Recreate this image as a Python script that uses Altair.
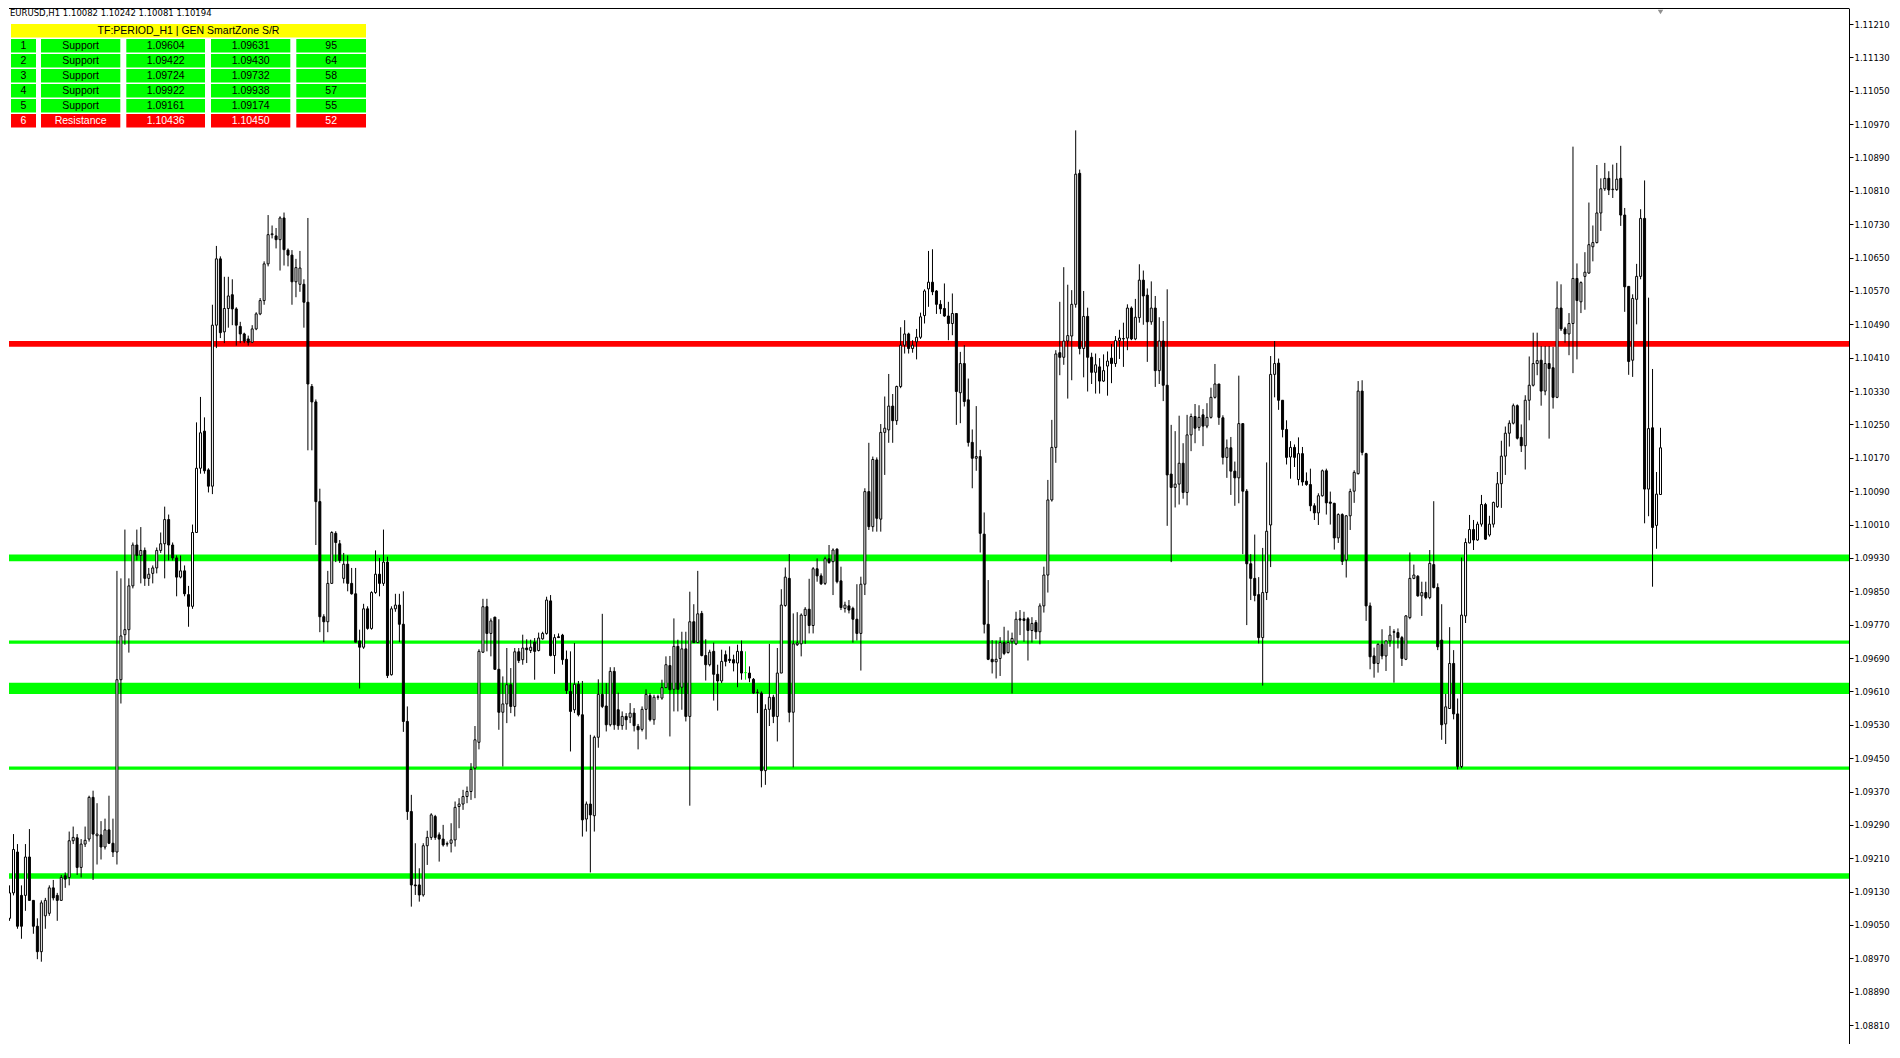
import altair as alt
import numpy as np
import pandas as pd

# ---------------- data (EURUSD H1 candles) ----------------
open_ = [
1.09060,1.09066,1.09127,1.09225,1.09121,1.09121,1.09213,1.09109,1.09047,1.08986,
1.09072,1.09078,1.09139,1.09121,1.09109,1.09168,1.09164,1.09252,1.09259,1.09188,
1.09244,1.09256,1.09356,1.09264,1.09266,1.09237,1.09278,1.09246,1.09225,1.09638,
1.09746,1.09758,1.09863,1.09961,1.09936,1.09948,1.09881,1.09893,1.09906,1.09948,
1.09964,1.10022,1.09961,1.09930,1.09884,1.09899,1.09842,1.09814,1.09991,1.10145,
1.10234,1.10141,1.10102,1.10488,1.10647,1.10472,1.10528,1.10561,1.10527,1.10485,
1.10467,1.10455,1.10447,1.10479,1.10515,1.10547,1.10635,1.10705,1.10702,1.10693,
1.10745,1.10668,1.10656,1.10592,1.10586,1.10586,1.10543,1.10341,1.10304,1.10065,
1.09789,1.09777,1.09869,1.09989,1.09964,1.09881,1.09915,1.09869,1.09844,1.09731,
1.09716,1.09808,1.09761,1.09847,1.09891,1.09869,1.09920,1.09650,1.09808,1.09817,
1.09771,1.09538,1.09322,1.09146,1.09146,1.09122,1.09240,1.09260,1.09310,1.09266,
1.09256,1.09244,1.09246,1.09254,1.09334,1.09340,1.09358,1.09370,1.09426,1.09488,
1.09704,1.09813,1.09749,1.09788,1.09663,1.09560,1.09580,1.09626,1.09574,1.09705,
1.09686,1.09714,1.09708,1.09728,1.09708,1.09736,1.09749,1.09827,1.09696,1.09741,
1.09745,1.09687,1.09610,1.09566,1.09627,1.09554,1.09304,1.09340,1.09312,1.09500,
1.09603,1.09575,1.09530,1.09658,1.09566,1.09528,1.09550,1.09548,1.09558,1.09526,
1.09519,1.09567,1.09600,1.09542,1.09596,1.09594,1.09619,1.09672,1.09615,1.09718,
1.09620,1.09712,1.09550,1.09777,1.09727,1.09797,1.09696,1.09674,1.09706,1.09651,
1.09635,1.09698,1.09687,1.09686,1.09678,1.09706,1.09655,1.09654,1.09639,1.09607,
1.09606,1.09420,1.09567,1.09596,1.09550,1.09654,1.09816,1.09881,1.09560,1.09722,
1.09724,1.09792,1.09807,1.09768,1.09904,1.09887,1.09869,1.09928,1.09921,1.09951,
1.09875,1.09809,1.09815,1.09809,1.09783,1.09749,1.09867,1.10089,1.10005,1.10165,
1.10023,1.10231,1.10237,1.10294,1.10259,1.10341,1.10440,1.10467,1.10432,1.10448,
1.10459,1.10511,1.10575,1.10591,1.10570,1.10538,1.10528,1.10510,1.10492,1.10516,
1.10326,1.10396,1.10309,1.10207,1.10169,1.10173,1.09987,1.09771,1.09687,1.09681,
1.09689,1.09727,1.09703,1.09729,1.09724,1.09784,1.09784,1.09784,1.09756,1.09775,
1.09753,1.09815,1.09889,1.10069,1.10195,1.10422,1.10411,1.10450,1.10462,1.10538,
1.10852,1.10432,1.10509,1.10411,1.10375,1.10388,1.10354,1.10390,1.10409,1.10396,
1.10451,1.10455,1.10457,1.10529,1.10455,1.10506,1.10596,1.10560,1.10496,1.10529,
1.10379,1.10450,1.10344,1.10131,1.10099,1.10107,1.10157,1.10087,1.10225,1.10269,
1.10243,1.10273,1.10246,1.10267,1.10315,1.10347,1.10266,1.10171,1.10194,1.10138,
1.10122,1.10252,1.10090,1.09916,1.09881,1.09842,1.09739,1.09847,1.10009,1.10370,
1.10397,1.10308,1.10238,1.10172,1.10195,1.10118,1.10180,1.10114,1.10106,1.10055,
1.10038,1.10079,1.10139,1.10064,1.10061,1.09978,1.10034,1.09925,1.10031,1.10090,
1.10132,1.10330,1.10180,1.09815,1.09695,1.09677,1.09723,1.09695,1.09731,1.09753,
1.09751,1.09739,1.09687,1.09787,1.09881,1.09886,1.09839,1.09847,1.09835,1.09914,
1.09859,1.09733,1.09532,1.09569,1.09677,1.09556,1.09430,1.09791,1.09966,1.09998,
1.09973,1.10011,1.10058,1.09985,1.10011,1.10053,1.10108,1.10174,1.10229,1.10253,
1.10295,1.10219,1.10199,1.10308,1.10344,1.10396,1.10404,1.10330,1.10396,1.10386,
1.10315,1.10529,1.10479,1.10467,1.10492,1.10600,1.10544,1.10605,1.10613,1.10676,
1.10686,1.10757,1.10815,1.10840,1.10813,1.10813,1.10840,1.10752,1.10581,1.10404,
1.10550,1.10605,1.10744,1.10095,1.10242,1.10008,1.10082]

high = [
1.09066,1.09145,1.09268,1.09244,1.09145,1.09244,1.09280,1.09109,1.09066,1.09109,
1.09115,1.09145,1.09158,1.09127,1.09170,1.09176,1.09274,1.09286,1.09268,1.09256,
1.09286,1.09360,1.09372,1.09342,1.09299,1.09305,1.09360,1.09305,1.09899,1.09881,
1.09998,1.09881,1.09967,1.09998,1.10004,1.09955,1.09906,1.09912,1.09955,1.09991,
1.10053,1.10034,1.09967,1.09936,1.09936,1.09912,1.09863,1.10010,1.10255,1.10316,
1.10267,1.10145,1.10537,1.10678,1.10653,1.10604,1.10604,1.10598,1.10531,1.10496,
1.10470,1.10463,1.10488,1.10519,1.10553,1.10641,1.10752,1.10727,1.10721,1.10749,
1.10758,1.10672,1.10668,1.10647,1.10666,1.10598,1.10745,1.10347,1.10310,1.10096,
1.09795,1.09899,1.09994,1.09994,1.09973,1.09942,1.09936,1.09906,1.09906,1.09758,
1.09820,1.09814,1.09850,1.09948,1.09930,1.09998,1.09933,1.09814,1.09844,1.09844,
1.09850,1.09574,1.09362,1.09246,1.09186,1.09246,1.09276,1.09318,1.09314,1.09272,
1.09290,1.09250,1.09294,1.09346,1.09354,1.09374,1.09382,1.09438,1.09527,1.09711,
1.09832,1.09832,1.09785,1.09789,1.09783,1.09646,1.09714,1.09666,1.09714,1.09714,
1.09746,1.09735,1.09734,1.09738,1.09751,1.09753,1.09837,1.09841,1.09747,1.09749,
1.09748,1.09708,1.09706,1.09726,1.09635,1.09635,1.09346,1.09506,1.09504,1.09639,
1.09796,1.09630,1.09668,1.09668,1.09607,1.09562,1.09558,1.09582,1.09570,1.09532,
1.09574,1.09615,1.09606,1.09602,1.09602,1.09638,1.09694,1.09695,1.09785,1.09734,
1.09753,1.09753,1.09849,1.09819,1.09899,1.09803,1.09735,1.09710,1.09727,1.09674,
1.09710,1.09708,1.09718,1.09698,1.09722,1.09732,1.09706,1.09670,1.09642,1.09615,
1.09610,1.09579,1.09724,1.09602,1.09714,1.09855,1.09907,1.09939,1.09797,1.09800,
1.09797,1.09812,1.09880,1.09908,1.09929,1.09893,1.09933,1.09961,1.09953,1.09953,
1.09909,1.09825,1.09829,1.09813,1.09867,1.09885,1.10097,1.10206,1.10173,1.10171,
1.10251,1.10317,1.10371,1.10323,1.10343,1.10483,1.10500,1.10470,1.10452,1.10479,
1.10518,1.10574,1.10666,1.10670,1.10572,1.10548,1.10588,1.10544,1.10564,1.10516,
1.10424,1.10440,1.10360,1.10238,1.10294,1.10189,1.10039,1.09877,1.09733,1.09732,
1.09740,1.09765,1.09756,1.09751,1.09801,1.09805,1.09801,1.09788,1.09788,1.09781,
1.09821,1.09909,1.10117,1.10261,1.10428,1.10544,1.10627,1.10585,1.10572,1.10955,
1.10861,1.10570,1.10530,1.10422,1.10420,1.10409,1.10418,1.10425,1.10443,1.10462,
1.10477,1.10494,1.10538,1.10533,1.10551,1.10634,1.10619,1.10576,1.10593,1.10558,
1.10507,1.10498,1.10574,1.10249,1.10234,1.10271,1.10205,1.10273,1.10276,1.10299,
1.10296,1.10287,1.10301,1.10338,1.10395,1.10347,1.10272,1.10214,1.10220,1.10161,
1.10367,1.10252,1.10095,1.09939,1.09986,1.09884,1.09954,1.10159,1.10414,1.10450,
1.10408,1.10308,1.10260,1.10210,1.10202,1.10219,1.10196,1.10135,1.10144,1.10061,
1.10085,1.10142,1.10144,1.10089,1.10062,1.10037,1.10037,1.10033,1.10096,1.10140,
1.10354,1.10356,1.10182,1.09823,1.09715,1.09725,1.09759,1.09731,1.09767,1.09759,
1.09761,1.09743,1.09793,1.09943,1.09914,1.09889,1.09873,1.09873,1.09949,1.10066,
1.09869,1.09819,1.09604,1.09764,1.09709,1.09593,1.09931,1.09977,1.10033,1.10021,
1.10017,1.10081,1.10062,1.10031,1.10065,1.10136,1.10211,1.10245,1.10260,1.10300,
1.10298,1.10250,1.10320,1.10413,1.10470,1.10470,1.10438,1.10438,1.10438,1.10436,
1.10593,1.10586,1.10484,1.10517,1.10916,1.10636,1.10593,1.10663,1.10782,1.10727,
1.10872,1.10840,1.10877,1.10857,1.10873,1.10877,1.10918,1.10769,1.10581,1.10562,
1.10635,1.10766,1.10835,1.10554,1.10383,1.10136,1.10242]

low = [
1.08955,1.09060,1.09121,1.09041,1.09017,1.09084,1.09109,1.09029,1.08968,1.08962,
1.09041,1.09072,1.09109,1.09060,1.09109,1.09139,1.09145,1.09244,1.09170,1.09164,
1.09237,1.09250,1.09158,1.09195,1.09207,1.09231,1.09244,1.09213,1.09195,1.09581,
1.09722,1.09703,1.09857,1.09924,1.09869,1.09863,1.09863,1.09869,1.09893,1.09942,
1.09881,1.09924,1.09924,1.09838,1.09881,1.09838,1.09765,1.09808,1.09991,1.10132,
1.10132,1.10087,1.10083,1.10433,1.10457,1.10445,1.10482,1.10488,1.10439,1.10445,
1.10445,1.10439,1.10445,1.10476,1.10512,1.10537,1.10629,1.10696,1.10672,1.10619,
1.10631,1.10629,1.10537,1.10555,1.10568,1.10482,1.10188,1.10188,1.09961,1.09752,
1.09728,1.09752,1.09869,1.09920,1.09918,1.09869,1.09850,1.09842,1.09728,1.09617,
1.09712,1.09758,1.09758,1.09844,1.09838,1.09863,1.09642,1.09648,1.09801,1.09728,
1.09513,1.09302,1.09094,1.09122,1.09106,1.09118,1.09194,1.09254,1.09254,1.09202,
1.09238,1.09238,1.09224,1.09238,1.09282,1.09326,1.09342,1.09350,1.09354,1.09471,
1.09702,1.09706,1.09694,1.09662,1.09518,1.09430,1.09534,1.09558,1.09550,1.09678,
1.09674,1.09678,1.09702,1.09638,1.09706,1.09734,1.09746,1.09694,1.09652,1.09738,
1.09674,1.09604,1.09466,1.09558,1.09550,1.09262,1.09274,1.09176,1.09274,1.09475,
1.09570,1.09514,1.09526,1.09518,1.09518,1.09518,1.09518,1.09534,1.09514,1.09471,
1.09514,1.09495,1.09538,1.09530,1.09590,1.09590,1.09619,1.09502,1.09562,1.09562,
1.09566,1.09538,1.09336,1.09726,1.09726,1.09694,1.09636,1.09670,1.09588,1.09564,
1.09630,1.09670,1.09678,1.09658,1.09620,1.09638,1.09638,1.09632,1.09604,1.09558,
1.09380,1.09386,1.09527,1.09534,1.09490,1.09654,1.09813,1.09536,1.09428,1.09719,
1.09694,1.09724,1.09749,1.09749,1.09873,1.09865,1.09865,1.09916,1.09841,1.09869,
1.09805,1.09799,1.09797,1.09727,1.09732,1.09660,1.09841,1.09997,1.09993,1.09993,
1.09993,1.10129,1.10206,1.10206,1.10249,1.10337,1.10420,1.10420,1.10422,1.10406,
1.10455,1.10492,1.10532,1.10560,1.10515,1.10515,1.10508,1.10452,1.10464,1.10249,
1.10253,1.10293,1.10197,1.10097,1.10139,1.09943,1.09749,1.09685,1.09653,1.09641,
1.09647,1.09697,1.09701,1.09605,1.09721,1.09745,1.09729,1.09684,1.09727,1.09735,
1.09723,1.09799,1.09847,1.10065,1.10158,1.10368,1.10393,1.10312,1.10356,1.10530,
1.10418,1.10363,1.10329,1.10347,1.10324,1.10324,1.10352,1.10319,1.10349,1.10388,
1.10407,1.10388,1.10428,1.10452,1.10452,1.10494,1.10489,1.10400,1.10489,1.10340,
1.10347,1.10306,1.10007,1.09920,1.10051,1.10058,1.10072,1.10056,1.10186,1.10205,
1.10235,1.10198,1.10241,1.10264,1.10312,1.10249,1.10154,1.10122,1.10081,1.10055,
1.10061,1.09939,1.09769,1.09829,1.09826,1.09725,1.09624,1.09829,1.09908,1.10315,
1.10285,1.10219,1.10154,1.10120,1.10148,1.10104,1.10103,1.10103,1.10042,1.10021,
1.10009,1.10077,1.10034,1.10010,1.09950,1.09966,1.09913,1.09883,1.09997,1.10062,
1.10130,1.10176,1.09779,1.09663,1.09643,1.09655,1.09687,1.09659,1.09717,1.09631,
1.09713,1.09671,1.09685,1.09783,1.09879,1.09837,1.09791,1.09831,1.09831,1.09857,
1.09709,1.09494,1.09484,1.09568,1.09543,1.09423,1.09426,1.09774,1.09965,1.09949,
1.09971,1.10005,1.09973,1.09981,1.10003,1.10050,1.10050,1.10129,1.10197,1.10250,
1.10214,1.10184,1.10142,1.10260,1.10341,1.10368,1.10295,1.10320,1.10216,1.10288,
1.10313,1.10474,1.10446,1.10416,1.10373,1.10406,1.10517,1.10525,1.10611,1.10641,
1.10684,1.10714,1.10810,1.10800,1.10793,1.10810,1.10726,1.10520,1.10369,1.10364,
1.10490,1.10598,1.10013,1.10030,1.09861,1.09952,1.10081]

close = [
1.08962,1.09127,1.09231,1.09047,1.09047,1.09213,1.09109,1.09047,1.08986,1.09103,
1.09109,1.09139,1.09115,1.09109,1.09164,1.09160,1.09252,1.09260,1.09188,1.09244,
1.09253,1.09356,1.09268,1.09268,1.09237,1.09278,1.09246,1.09225,1.09638,1.09743,
1.09758,1.09863,1.09961,1.09936,1.09948,1.09881,1.09891,1.09906,1.09948,1.09964,
1.10022,1.09961,1.09930,1.09884,1.09899,1.09844,1.09814,1.09991,1.10145,1.10230,
1.10139,1.10102,1.10488,1.10647,1.10470,1.10528,1.10558,1.10527,1.10488,1.10467,
1.10450,1.10447,1.10479,1.10515,1.10547,1.10635,1.10705,1.10707,1.10693,1.10745,
1.10669,1.10656,1.10592,1.10626,1.10625,1.10543,1.10347,1.10304,1.10065,1.09789,
1.09777,1.09869,1.09991,1.09967,1.09924,1.09915,1.09869,1.09844,1.09728,1.09716,
1.09808,1.09761,1.09847,1.09891,1.09869,1.09920,1.09648,1.09808,1.09817,1.09771,
1.09538,1.09322,1.09146,1.09144,1.09122,1.09240,1.09260,1.09314,1.09260,1.09256,
1.09242,1.09245,1.09254,1.09332,1.09340,1.09358,1.09370,1.09423,1.09494,1.09706,
1.09813,1.09749,1.09779,1.09663,1.09560,1.09580,1.09626,1.09574,1.09705,1.09684,
1.09714,1.09710,1.09716,1.09706,1.09738,1.09749,1.09829,1.09696,1.09739,1.09739,
1.09686,1.09612,1.09562,1.09627,1.09554,1.09302,1.09340,1.09314,1.09500,1.09603,
1.09574,1.09530,1.09658,1.09530,1.09528,1.09550,1.09542,1.09558,1.09528,1.09518,
1.09567,1.09603,1.09542,1.09596,1.09597,1.09619,1.09674,1.09614,1.09718,1.09615,
1.09712,1.09550,1.09777,1.09727,1.09796,1.09696,1.09674,1.09704,1.09651,1.09635,
1.09682,1.09682,1.09684,1.09678,1.09706,1.09654,1.09655,1.09642,1.09606,1.09608,
1.09420,1.09567,1.09596,1.09550,1.09654,1.09817,1.09884,1.09560,1.09724,1.09726,
1.09793,1.09807,1.09768,1.09904,1.09887,1.09868,1.09928,1.09919,1.09949,1.09873,
1.09811,1.09817,1.09805,1.09783,1.09749,1.09867,1.10089,1.10005,1.10166,1.10025,
1.10231,1.10241,1.10294,1.10259,1.10341,1.10440,1.10467,1.10432,1.10440,1.10459,
1.10508,1.10570,1.10591,1.10568,1.10538,1.10527,1.10510,1.10492,1.10516,1.10329,
1.10396,1.10305,1.10207,1.10169,1.10173,1.09989,1.09771,1.09687,1.09681,1.09687,
1.09727,1.09701,1.09727,1.09737,1.09783,1.09781,1.09780,1.09756,1.09773,1.09753,
1.09815,1.09889,1.10069,1.10195,1.10419,1.10411,1.10450,1.10463,1.10538,1.10850,
1.10432,1.10509,1.10411,1.10375,1.10393,1.10354,1.10379,1.10402,1.10396,1.10451,
1.10457,1.10456,1.10529,1.10455,1.10507,1.10596,1.10558,1.10496,1.10529,1.10379,
1.10450,1.10344,1.10129,1.10099,1.10107,1.10157,1.10087,1.10225,1.10269,1.10241,
1.10267,1.10246,1.10267,1.10315,1.10347,1.10267,1.10171,1.10194,1.10138,1.10122,
1.10252,1.10090,1.09916,1.09881,1.09840,1.09739,1.09847,1.09994,1.10370,1.10396,
1.10308,1.10238,1.10171,1.10195,1.10171,1.10180,1.10112,1.10106,1.10055,1.10038,
1.10079,1.10139,1.10062,1.10061,1.09978,1.10034,1.09922,1.10031,1.10089,1.10135,
1.10330,1.10183,1.09815,1.09693,1.09677,1.09723,1.09695,1.09731,1.09745,1.09752,
1.09739,1.09689,1.09791,1.09881,1.09889,1.09839,1.09847,1.09835,1.09917,1.09859,
1.09717,1.09530,1.09573,1.09677,1.09556,1.09430,1.09793,1.09967,1.09998,1.09973,
1.10011,1.10058,1.09975,1.10011,1.10063,1.10108,1.10174,1.10229,1.10253,1.10295,
1.10217,1.10199,1.10308,1.10344,1.10396,1.10403,1.10330,1.10396,1.10384,1.10315,
1.10529,1.10479,1.10467,1.10492,1.10600,1.10547,1.10590,1.10615,1.10681,1.10686,
1.10757,1.10815,1.10840,1.10812,1.10814,1.10838,1.10752,1.10580,1.10401,1.10552,
1.10605,1.10744,1.10095,1.10240,1.10003,1.10083,1.10194]

symbol = "EURUSD,H1"

# S/R zones (the table shown in the top-left corner)
zone_rank = [1, 2, 3, 4, 5, 6]
zone_type = ["Support", "Support", "Support", "Support", "Support", "Resistance"]
zone_low = [1.09604, 1.09422, 1.09724, 1.09922, 1.09161, 1.10436]
zone_high = [1.09631, 1.09430, 1.09732, 1.09938, 1.09174, 1.10450]
zone_score = [95, 64, 58, 57, 55, 52]
table_title = "TF:PERIOD_H1 | GEN SmartZone S/R"

price_ticks = [1.08810, 1.08890, 1.08970, 1.09050, 1.09130, 1.09210, 1.09290,
               1.09370, 1.09450, 1.09530, 1.09610, 1.09690, 1.09770, 1.09850,
               1.09930, 1.10010, 1.10090, 1.10170, 1.10250, 1.10330, 1.10410,
               1.10490, 1.10570, 1.10650, 1.10730, 1.10810, 1.10890, 1.10970,
               1.11050, 1.11130, 1.11210]

# ---------------- layout / style ----------------
PLOT_W, PLOT_H = 1840, 1036
BAR_PX = 4.0                       # pixels per bar
X_DOMAIN = [3.125, 3.125 + PLOT_W / BAR_PX]
Y_TOP = 1.112484
PX_PER_PRICE = 41712.0
Y_DOMAIN = [Y_TOP - PLOT_H / PX_PER_PRICE, Y_TOP]

ZONE_COLORS = {"Support": "#00ff00", "Resistance": "#ff0000"}
ZONE_TEXT = {"Support": "#000000", "Resistance": "#ffffff"}
CANDLE_FILL = {"bull": "#ffffff", "bear": "#000000", "doji": "#00ff00"}
CANDLE_LINE = {"bull": "#000000", "bear": "#000000", "doji": "#00ff00"}

TABLE_X, TABLE_Y = 2, 16
COLS = [(0, 25), (30, 109.3), (115.3, 194), (200, 279.3), (285.3, 355)]
ROW_STEP, CELL_H = 15, 13.5

# ---------------- frames ----------------
n = len(close)
assert len(open_) == len(high) == len(low) == n
df = pd.DataFrame({"bar": np.arange(1, n + 1), "open": open_, "high": high,
                   "low": low, "close": close})
df["body_lo"] = df[["open", "close"]].min(axis=1)
df["body_hi"] = df[["open", "close"]].max(axis=1)
df["kind"] = np.where(df["close"] > df["open"], "bull",
                      np.where(df["close"] < df["open"], "bear", "doji"))
df["fillc"] = df["kind"].map(CANDLE_FILL)
df["linec"] = df["kind"].map(CANDLE_LINE)

zdf = pd.DataFrame({"zlow": zone_low, "zhigh": zone_high, "type": zone_type})
zdf["col"] = zdf["type"].map(ZONE_COLORS)

xs = alt.Scale(domain=X_DOMAIN, nice=False, zero=False)
ys = alt.Scale(domain=Y_DOMAIN, nice=False, zero=False)
yaxis = alt.Axis(orient="right", values=price_ticks, format=".5f", title=None,
                 grid=False, domainColor="#000000", domainWidth=1,
                 tickColor="#000000", tickWidth=1, tickSize=4, labelPadding=1,
                 labelFont="DejaVu Sans", labelFontSize=8.5, labelColor="#000000",
                 labelOverlap=False, labelFlush=False)

zones = alt.Chart(zdf).mark_rect().encode(
    x=alt.value(0), x2=alt.value(PLOT_W),
    y=alt.Y("zlow:Q", scale=ys, axis=yaxis), y2="zhigh:Q",
    color=alt.Color("col:N", scale=None, legend=None))

wicks = alt.Chart(df).mark_rule(strokeWidth=1, clip=True).encode(
    x=alt.X("bar:Q", scale=xs, axis=None),
    y=alt.Y("low:Q", scale=ys, axis=yaxis), y2="high:Q",
    color=alt.Color("linec:N", scale=None, legend=None))

bodies = alt.Chart(df).mark_bar(size=2, strokeWidth=1, clip=True).encode(
    x=alt.X("bar:Q", scale=xs, axis=None),
    y=alt.Y("body_lo:Q", scale=ys, axis=yaxis), y2="body_hi:Q",
    fill=alt.Fill("fillc:N", scale=None, legend=None),
    stroke=alt.Stroke("linec:N", scale=None, legend=None))

frame = alt.Chart(pd.DataFrame({"k": [0]})).mark_rule(color="#000000", strokeWidth=1).encode(
    x=alt.value(0), x2=alt.value(PLOT_W), y=alt.value(0.5))

info_text = f"{symbol}  {open_[-1]:.5f} {high[-1]:.5f} {low[-1]:.5f} {close[-1]:.5f}"
info = alt.Chart(pd.DataFrame({"t": [info_text]})).mark_text(
    align="left", baseline="top", font="DejaVu Sans", fontSize=8.5, color="#000000"
).encode(x=alt.value(1), y=alt.value(1), text="t:N")

marker = alt.Chart(pd.DataFrame({"bar": [n]})).mark_point(
    shape="triangle-down", filled=True, size=30, color="#909090", opacity=1
).encode(x=alt.X("bar:Q", scale=xs, axis=None), y=alt.value(4))

# ---------------- table ----------------
cells = [{"x0": TABLE_X + COLS[0][0], "x1": TABLE_X + COLS[-1][1],
          "y0": TABLE_Y, "y1": TABLE_Y + CELL_H, "fill": "#ffff00",
          "label": table_title, "tcolor": "#000000"}]
for i in range(len(zone_rank)):
    vals = [str(zone_rank[i]), zone_type[i], f"{zone_low[i]:.5f}",
            f"{zone_high[i]:.5f}", str(zone_score[i])]
    y0 = TABLE_Y + ROW_STEP * (i + 1)
    for (a, b), v in zip(COLS, vals):
        cells.append({"x0": TABLE_X + a, "x1": TABLE_X + b, "y0": y0, "y1": y0 + CELL_H,
                      "fill": ZONE_COLORS[zone_type[i]], "label": v,
                      "tcolor": ZONE_TEXT[zone_type[i]]})
tdf = pd.DataFrame(cells)
tdf["xc"] = (tdf["x0"] + tdf["x1"]) / 2
tdf["yc"] = (tdf["y0"] + tdf["y1"]) / 2 + 0.5

cell_rects = alt.Chart(tdf).mark_rect().encode(
    x=alt.X("x0:Q", scale=None, axis=None), x2="x1:Q",
    y=alt.Y("y0:Q", scale=None, axis=None), y2="y1:Q",
    fill=alt.Fill("fill:N", scale=None, legend=None))

cell_texts = alt.Chart(tdf).mark_text(
    font="Liberation Sans", fontSize=10.5, align="center", baseline="middle"
).encode(
    x=alt.X("xc:Q", scale=None, axis=None),
    y=alt.Y("yc:Q", scale=None, axis=None),
    text="label:N",
    color=alt.Color("tcolor:N", scale=None, legend=None))

main = alt.layer(zones, wicks, bodies, frame, info, marker)
table = alt.layer(cell_rects, cell_texts)

chart = alt.layer(main, table).resolve_scale(
    x="independent", y="independent"
).properties(
    width=PLOT_W, height=PLOT_H, padding=0, background="#ffffff"
).configure_view(strokeWidth=0)

chart.save("out.html", embed_options={"renderer": "svg", "actions": False})
